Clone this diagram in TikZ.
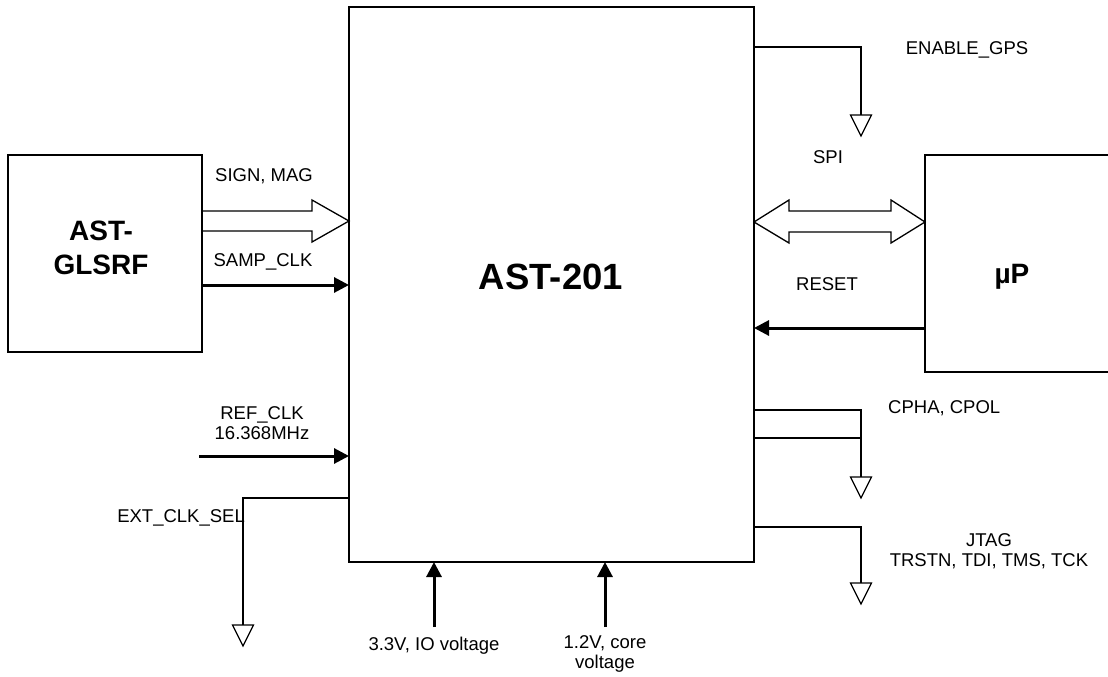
\documentclass[tikz,border=0pt]{standalone}
\usepackage{fontspec}
\setmainfont{Liberation Sans}
\usetikzlibrary{arrows.meta}
\newcommand\gndsym[1]{\draw[gndtri] (#1) ++(-10.5,0) -- ++(21,0) -- ++(-10.5,21) -- cycle;}
\begin{document}
\begin{tikzpicture}[x=1pt,y=-1pt,
  lbl/.style={font=\fontsize{18.5}{20}\selectfont, inner sep=0pt, align=center},
  big/.style={font=\fontsize{36.5}{40}\selectfont\bfseries, inner sep=0pt},
  mid/.style={font=\fontsize{28}{34}\selectfont\bfseries, inner sep=0pt, align=center},
  blk/.style={draw, line width=1.3pt, inner sep=0pt, outer sep=0pt},
  wire/.style={line width=1.3pt},
  sig/.style={line width=3pt, -{Triangle[length=15pt,width=15pt]}},
  gndtri/.style={line width=1.2pt, line join=miter}]
\useasboundingbox (0,0) rectangle (1108,677);
% blocks
\node[blk, minimum width=405pt, minimum height=555pt] (main) at (551.5,284.5) {};
\node[big] (mainlbl) at (551,277) {AST-201};
\node[blk, minimum width=194pt, minimum height=197pt] (rf) at (105,253.5) {};
\node[mid] (rflbl) at (101,248) {AST-\\GLSRF};
\node[blk, minimum width=200pt, minimum height=217pt] (up) at (1025,263.5) {};
\node[mid] (uplbl) at (1012,277) {µP};
% SIGN, MAG bus arrow
\draw[wire] (rf.east|-0,211) -- (312,211) -- (312,200) -- (main.west|-0,221)
  -- (312,242) -- (312,231) -- (rf.east|-0,231);
\node[lbl] (lsign) at (264,176) {SIGN, MAG};
% SAMP_CLK
\draw[sig] (rf.east|-0,285) -- (main.west|-0,285);
\node[lbl] (lsamp) at (263,262) {SAMP\_CLK};
% REF_CLK
\coordinate (refin) at (199,456);
\draw[sig] (refin) -- (main.west|-refin);
\node[lbl] (lref) at (262,423) {REF\_CLK\\16.368MHz};
% EXT_CLK_SEL
\coordinate (g1) at (243,625);
\draw[wire] (main.west|-0,498) -| (g1);
\gndsym{g1}
\node[lbl, anchor=east] (lext) at (245,518) {EXT\_CLK\_SEL};
% ENABLE_GPS
\coordinate (g2) at (861,115);
\draw[wire] (main.east|-0,47) -| (g2);
\gndsym{g2}
\node[lbl] (lena) at (967,50) {ENABLE\_GPS};
% SPI
\draw[wire] (main.east|-0,222) -- (789,200) -- (789,211) -- (891,211) -- (891,200)
  -- (up.west|-0,222) -- (891,243) -- (891,232) -- (789,232) -- (789,243) -- cycle;
\node[lbl] (lspi) at (828,157) {SPI};
% RESET
\draw[sig] (up.west|-0,328) -- (main.east|-0,328);
\node[lbl] (lres) at (827,284) {RESET};
% CPHA, CPOL
\coordinate (g3) at (861,477);
\draw[wire] (main.east|-0,410) -| (g3);
\draw[wire] (main.east|-0,438) -- (g3|-0,438);
\gndsym{g3}
\node[lbl, anchor=west] (lcpha) at (888,408) {CPHA, CPOL};
% JTAG
\coordinate (g4) at (861,583);
\draw[wire] (main.east|-0,527) -| (g4);
\gndsym{g4}
\node[lbl] (ljtag) at (989,551) {JTAG\\TRSTN, TDI, TMS, TCK};
% supplies
\coordinate (v33) at (434,627);
\draw[sig] (v33) -- (v33|-main.south);
\node[lbl] (l33) at (434,646) {3.3V, IO voltage};
\coordinate (v12) at (605,627);
\draw[sig] (v12) -- (v12|-main.south);
\node[lbl] (l12) at (605,654) {1.2V, core\\voltage};
\end{tikzpicture}
\end{document}
